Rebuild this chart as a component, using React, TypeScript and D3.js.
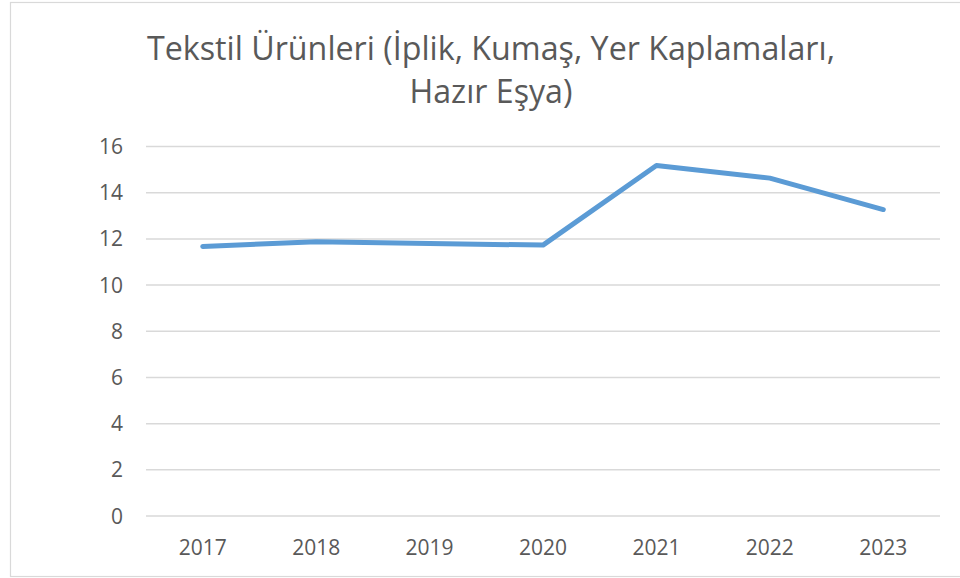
import { useEffect, useRef } from "react";
import * as d3 from "d3";

// --- Data ---
const years = ["2017", "2018", "2019", "2020", "2021", "2022", "2023"];
const values = [11.67, 11.88, 11.8, 11.73, 15.18, 14.63, 13.27];
const yTicks = [0, 2, 4, 6, 8, 10, 12, 14, 16];
const titleLines = ["Tekstil Ürünleri (İplik, Kumaş, Yer Kaplamaları,", "Hazır Eşya)"];

const W = 960;
const H = 578;

export default function App() {
  const ref = useRef<SVGSVGElement>(null);

  useEffect(() => {
    const svg = d3.select(ref.current);
    svg.selectAll("*").remove();

    const font = "'Open Sans', 'Noto Sans', sans-serif";
    const textColor = "#595959";

    // chart frame
    svg
      .append("rect")
      .attr("x", 10.5)
      .attr("y", 2.5)
      .attr("width", 968)
      .attr("height", 574)
      .attr("fill", "#fff")
      .attr("stroke", "#d9d9d9")
      .attr("stroke-width", 1.2);

    // title
    svg
      .append("g")
      .selectAll("text")
      .data(titleLines)
      .join("text")
      .attr("x", 491)
      .attr("y", (_, i) => 60 + i * 43)
      .attr("text-anchor", "middle")
      .attr("font-family", font)
      .attr("font-size", 33)
      .attr("fill", textColor)
      .attr("textLength", (_, i) => (i === 0 ? 688 : 163))
      .attr("lengthAdjust", "spacingAndGlyphs")
      .text((d) => d);

    const x = d3.scaleBand().domain(years).range([146, 940]);
    const y = d3.scaleLinear().domain([0, 16]).range([516, 146.5]);

    // gridlines
    svg
      .append("g")
      .selectAll("line")
      .data(yTicks)
      .join("line")
      .attr("x1", 146)
      .attr("x2", 940)
      .attr("y1", (d) => y(d))
      .attr("y2", (d) => y(d))
      .attr("stroke", "#d9d9d9")
      .attr("stroke-width", 1.5);

    // y labels
    svg
      .append("g")
      .selectAll("text")
      .data(yTicks)
      .join("text")
      .attr("x", 123)
      .attr("y", (d) => y(d))
      .attr("dy", "0.36em")
      .attr("text-anchor", "end")
      .attr("font-family", font)
      .attr("font-size", 21)
      .attr("fill", textColor)
      .text((d) => d);

    // x labels
    svg
      .append("g")
      .selectAll("text")
      .data(years)
      .join("text")
      .attr("x", (d) => (x(d) ?? 0) + x.bandwidth() / 2)
      .attr("y", 555)
      .attr("text-anchor", "middle")
      .attr("font-family", font)
      .attr("font-size", 21)
      .attr("fill", textColor)
      .text((d) => d);

    // series line
    const line = d3
      .line<number>()
      .x((_, i) => (x(years[i]) ?? 0) + x.bandwidth() / 2)
      .y((d) => y(d));

    svg
      .append("path")
      .datum(values)
      .attr("d", line)
      .attr("fill", "none")
      .attr("stroke", "#5b9bd5")
      .attr("stroke-width", 5)
      .attr("stroke-linecap", "round")
      .attr("stroke-linejoin", "round");
  }, []);

  return (
    <div style={{ position: "absolute", left: 0, top: 0, width: W, height: H, overflow: "hidden", background: "#fff" }}>
      <svg ref={ref} width={W} height={H} />
    </div>
  );
}
